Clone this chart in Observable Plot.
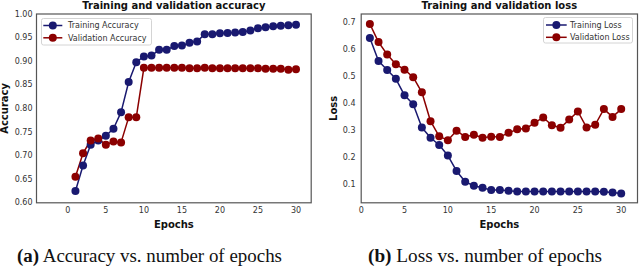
<!DOCTYPE html>
<html><head><meta charset="utf-8">
<script src="https://cdn.jsdelivr.net/npm/d3@7"></script>
<script src="https://cdn.jsdelivr.net/npm/@observablehq/plot@0.6"></script>
<style>
body{margin:0;background:#fff;}
#wrap{position:relative;width:640px;height:267px;overflow:hidden;font-family:"DejaVu Sans",sans-serif;}
.panel{position:absolute;top:0;}
.overlay{position:absolute;}
</style></head>
<body><div id="wrap"></div>
<script>
const epochs = [1,2,3,4,5,6,7,8,9,10,11,12,13,14,15,16,17,18,19,20,21,22,23,24,25,26,27,28,29,30];
const accTrain = [0.625,0.679,0.723,0.732,0.742,0.757,0.792,0.856,0.898,0.910,0.912,0.924,0.924,0.932,0.933,0.939,0.942,0.957,0.957,0.959,0.960,0.961,0.962,0.965,0.970,0.972,0.974,0.975,0.976,0.977];
const accVal = [0.655,0.705,0.732,0.736,0.723,0.730,0.728,0.781,0.781,0.886,0.886,0.886,0.886,0.886,0.886,0.885,0.885,0.886,0.885,0.885,0.885,0.885,0.885,0.885,0.885,0.884,0.884,0.884,0.882,0.883];
const lossTrain = [0.642,0.557,0.524,0.491,0.430,0.397,0.311,0.273,0.246,0.207,0.150,0.110,0.095,0.088,0.079,0.079,0.077,0.074,0.074,0.074,0.074,0.074,0.074,0.074,0.074,0.074,0.074,0.073,0.070,0.066];
const lossVal = [0.694,0.627,0.581,0.545,0.525,0.497,0.441,0.334,0.278,0.264,0.299,0.276,0.284,0.273,0.277,0.276,0.291,0.304,0.307,0.328,0.348,0.319,0.310,0.340,0.370,0.311,0.321,0.379,0.350,0.379];
const xTicks = [0,5,10,15,20,25,30];
const accTicks = [0.60,0.65,0.70,0.75,0.80,0.85,0.90,0.95,1.00];
const lossTicks = [0.1,0.2,0.3,0.4,0.5,0.6,0.7];
const accSeries = ["Training Accuracy","Validation Accuracy"];
const lossSeries = ["Training Loss","Validation Loss"];
const colors = ["#191970","#8b0000"];
const titles = ["Training and validation accuracy","Training and validation loss"];
const yLabels = ["Accuracy","Loss"];
const xLabel = "Epochs";
const captions = [["(a)"," Accuracy vs. number of epochs"],["(b)"," Loss vs. number of epochs"]];

function rows(names, arrays){
  const out = [];
  names.forEach((n,i)=>arrays[i].forEach((v,j)=>out.push({series:n, epoch:epochs[j], value:v})));
  return out;
}

function panel(opts){
  const data = rows(opts.series, opts.values);
  return Plot.plot({
    width:320, height:232,
    marginLeft:opts.ml, marginRight:opts.mr, marginTop:13.5, marginBottom:29.7,
    x:{domain:opts.xdomain},
    y:{domain:opts.ydomain},
    color:{domain:opts.series, range:colors},
    style:{fontFamily:"DejaVu Sans", fontSize:"8px", color:"#333", background:"transparent"},
    marks:[
      Plot.axisX({ticks:xTicks, tickSize:0, tickPadding:5, label:null, fill:"#333"}),
      Plot.axisY({ticks:opts.yticks, tickSize:0, tickPadding:opts.yPad, label:null, tickFormat:opts.fmt, fill:"#333"}),
      Plot.line(data, {x:"epoch", y:"value", z:"series", stroke:"series", strokeWidth:1.5}),
      Plot.dot(data, {x:"epoch", y:"value", fill:"series", r:4}),
      Plot.frame({stroke:"#555", strokeWidth:1.2}),
      Plot.text([opts.title], {text:d=>d, frameAnchor:"top", lineAnchor:"middle", dy:-8.5, fontWeight:"bold", fontSize:10, fill:"#111"}),
      Plot.text([xLabel], {text:d=>d, frameAnchor:"bottom", lineAnchor:"middle", textAnchor:"middle", dy:21.7, fontWeight:"bold", fontSize:10, fill:"#111"}),
      Plot.text([opts.ylabel], {text:d=>d, frameAnchor:"left", lineAnchor:"middle", textAnchor:"middle", rotate:-90, dx:opts.ylDx, fontWeight:"bold", fontSize:10, fill:"#111"})
    ]
  });
}

function legend(names, box, lineX0, lineX1, textX, rowsY){
  const svg = d3.create("svg").attr("width", box.w+2).attr("height", box.h+2)
    .attr("class","overlay").style("left",(box.x-1)+"px").style("top",(box.y-1)+"px");
  svg.append("rect").attr("x",1.5).attr("y",1.5).attr("width",box.w-1).attr("height",box.h-1)
    .attr("rx",2).attr("fill","rgba(255,255,255,0.85)").attr("stroke","#d4d4d4").attr("stroke-width",1);
  names.forEach((n,i)=>{
    const y = rowsY[i]+1;
    svg.append("line").attr("x1",lineX0+1).attr("x2",lineX1+1).attr("y1",y).attr("y2",y)
      .attr("stroke",colors[i]).attr("stroke-width",1.5);
    svg.append("circle").attr("cx",(lineX0+lineX1)/2+1).attr("cy",y).attr("r",4).attr("fill",colors[i]);
    svg.append("text").attr("x",textX+1).attr("y",y).attr("dy","0.35em")
      .attr("font-family","DejaVu Sans").attr("font-size",8).attr("fill","#333").text(n);
  });
  return svg.node();
}

const wrap = document.getElementById("wrap");
const left = panel({series:accSeries, values:[accTrain,accVal], ml:36, mr:9.3, xdomain:[-4.12,32.0], ydomain:[0.6,1.0],
  yticks:accTicks, fmt:d3.format(".2f"), yPad:4, title:titles[0], ylabel:yLabels[0], ylDx:-31.5});
left.classList.add("panel"); left.style.left="0px";
wrap.appendChild(left);
const right = panel({series:lossSeries, values:[lossTrain,lossVal], ml:40.7, mr:3, xdomain:[0,31.88], ydomain:[0.032,0.731],
  yticks:lossTicks, fmt:d3.format(".1f"), yPad:5.7, title:titles[1], ylabel:yLabels[1], ylDx:-27.7});
right.classList.add("panel"); right.style.left="320px";
wrap.appendChild(right);

wrap.appendChild(legend(accSeries, {x:40.7,y:17.5,w:111,h:27.5}, 2.3, 21.3, 27, [7.5,19.8]));
wrap.appendChild(legend(lossSeries, {x:543,y:17,w:90,h:26.5}, 3, 23.7, 27, [8,20.3]));

const cap = d3.create("svg").attr("width",640).attr("height",267).attr("class","overlay").style("left","0px").style("top","0px").style("pointer-events","none");
[[17,265],[368,234]].forEach(([x,w],i)=>{
  const t = cap.append("text").attr("x",x).attr("y",262).attr("textLength",w).attr("lengthAdjust","spacingAndGlyphs")
    .attr("font-family","Liberation Serif").attr("font-size",18).attr("fill","#111");
  t.append("tspan").attr("font-weight","bold").text(captions[i][0]);
  t.append("tspan").text(captions[i][1]);
});
wrap.appendChild(cap.node());
</script>
</body></html>
